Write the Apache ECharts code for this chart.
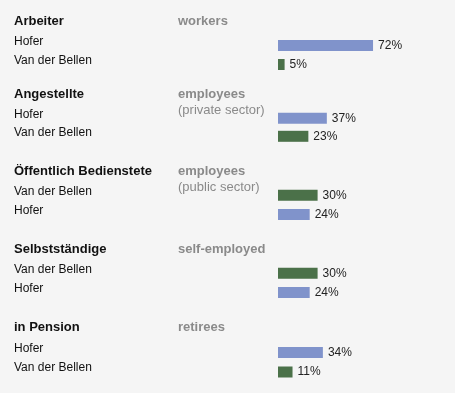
<!DOCTYPE html>
<html>
<head>
<meta charset="utf-8">
<script src="https://cdn.jsdelivr.net/npm/echarts@6/dist/echarts.min.js"></script>
<style>
html,body{margin:0;padding:0;background:#f5f5f5;}
#c{width:455px;height:393px;}
</style>
</head>
<body>
<div id="c"></div>
<script>
// ---- data ----
const groups = ['Arbeiter', 'Angestellte', 'Öffentlich Bedienstete', 'Selbstständige', 'in Pension'];
const groupsEn = ['workers', 'employees', 'employees', 'self-employed', 'retirees'];
const groupsEnSub = ['', '(private sector)', '(public sector)', '', ''];
const candidates = [
  ['Hofer', 'Van der Bellen'],
  ['Hofer', 'Van der Bellen'],
  ['Van der Bellen', 'Hofer'],
  ['Van der Bellen', 'Hofer'],
  ['Hofer', 'Van der Bellen']
];
const values = [
  [72, 5],
  [37, 23],
  [30, 24],
  [30, 24],
  [34, 11]
];

// ---- style / layout ----
const candColor = { 'Hofer': '#8093cb', 'Van der Bellen': '#4b7149' };
const FONT = 'Arial, "Liberation Sans", sans-serif';
const firstRow = [45.5, 118.3, 195.3, 273.3, 352.5];
const rowGap = [19, 18, 19.2, 19.2, 19.5];
const titleCenter = [21, 94, 171, 249, 327.5];
const barLeft = 278, pxPerPct = 1.32, labelLeft = 14, enLeft = 178;

const grids = [], xAxes = [], yAxes = [], series = [], titles = [];
groups.forEach((g, i) => {
  grids.push({ left: barLeft, width: 100 * pxPerPct, top: firstRow[i] - rowGap[i] / 2, height: rowGap[i] * 2 });
  xAxes.push({ gridIndex: i, type: 'value', min: 0, max: 100, show: false });
  yAxes.push({
    gridIndex: i, type: 'category', inverse: true, data: candidates[i],
    axisLine: { show: false }, axisTick: { show: false }, splitLine: { show: false },
    axisLabel: { align: 'left', verticalAlign: 'bottom', lineHeight: 8, margin: barLeft - labelLeft,
      fontSize: 12, color: '#111', fontFamily: FONT }
  });
  series.push({
    type: 'bar', xAxisIndex: i, yAxisIndex: i, barWidth: 11,
    data: values[i].map((v, k) => ({ value: v, itemStyle: { color: candColor[candidates[i][k]] } })),
    label: { show: true, position: 'right', distance: 5, formatter: '{c}%', fontSize: 12,
      color: '#222', fontFamily: FONT },
    animation: false
  });
  titles.push({
    text: g, left: labelLeft, top: titleCenter[i] - 8, padding: 0,
    textStyle: { fontSize: 13, fontWeight: 'bold', color: '#111', fontFamily: FONT, lineHeight: 16 }
  });
  titles.push({
    text: groupsEn[i], subtext: groupsEnSub[i], left: enLeft, top: titleCenter[i] - 8, padding: 0, itemGap: 0,
    textStyle: { fontSize: 13, fontWeight: 'bold', color: '#8a8a8a', fontFamily: FONT, lineHeight: 16 },
    subtextStyle: { fontSize: 13, color: '#8a8a8a', fontFamily: FONT, lineHeight: 16 }
  });
});

const chart = echarts.init(document.getElementById('c'), null, { renderer: 'canvas' });
chart.setOption({
  backgroundColor: '#f5f5f5',
  animation: false,
  title: titles,
  grid: grids,
  xAxis: xAxes,
  yAxis: yAxes,
  series: series
});
</script>
</body>
</html>
